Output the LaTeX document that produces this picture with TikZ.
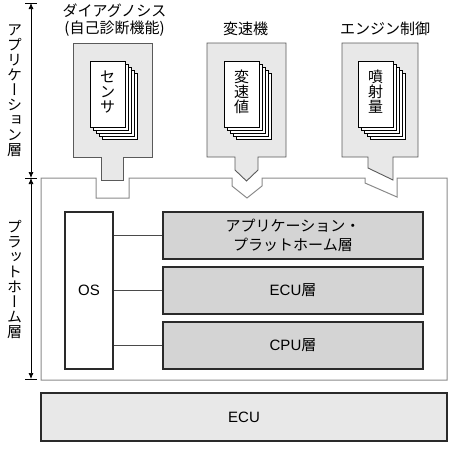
\documentclass[tikz,border=0pt]{standalone}
\usepackage{fontspec}
\usepackage{graphicx}
\setmainfont{Liberation Sans}
\newfontfamily\jp{Noto Sans CJK JP}
\newfontfamily\jpv[RawFeature=+vert]{Noto Sans CJK JP}
\usetikzlibrary{arrows.meta,calc}
\definecolor{appfill}{HTML}{E8E8E8}
\definecolor{layfill}{HTML}{D4D4D4}
\definecolor{ecufill}{HTML}{E8E8E8}
\definecolor{appline}{HTML}{5A5A5A}
\definecolor{platline}{HTML}{8A8A8A}
\definecolor{darkline}{HTML}{2A2A2A}
\begin{document}
\begin{tikzpicture}[x=1pt,y=-1pt,
 lbl/.style={font=\jp\fontsize{15}{17}\selectfont, align=center, inner sep=0pt},
 vlbl/.style={font=\jpv\fontsize{15}{15}\selectfont, align=center, inner sep=0pt},
 appbox/.style={fill=appfill, draw=appline, line width=0.9pt},
 platbox/.style={draw=platline, line width=1pt},
 page/.style={fill=white, draw=black, line width=0.7pt},
 frontpage/.style={page, minimum width=35pt, minimum height=66pt, inner sep=0pt},
 layer/.style={draw=darkline, fill=layfill, line width=1.4pt, minimum width=260pt, minimum height=47pt, inner sep=0pt, font=\fontsize{15}{19}\selectfont, align=center},
 osbox/.style={draw=darkline, fill=white, line width=1.4pt, minimum width=48pt, minimum height=157pt, inner sep=0pt, font=\fontsize{15}{17}\selectfont},
 ecubox/.style={draw=darkline, fill=ecufill, line width=1.4pt, minimum width=406pt, minimum height=48pt, inner sep=0pt, font=\fontsize{15}{17}\selectfont},
 link/.style={draw=darkline!85, line width=0.8pt},
 dim/.style={line width=0.7pt, {Latex[length=6pt,width=5pt]}-{Latex[length=6pt,width=5pt]}},
 tickmark/.style={line width=0.8pt}]
\useasboundingbox (0,0) rectangle (450,448);

% dimension lines
\coordinate (dTop) at (31,3);
\coordinate (dMid) at (31,178);
\coordinate (dBot) at (31,379);
\foreach \c in {dTop,dMid,dBot}
  \draw[tickmark] ([xshift=-6pt]\c) -- ([xshift=6pt]\c);
\draw[dim] (dTop) -- (dMid);
\draw[dim] (dMid) -- (dBot);
\node[vlbl] (lblApp) at (14.5,91) {ア\\プ\\リ\\ケ\\ー\\シ\\ョ\\ン\\層};
\node[vlbl] (lblPlat) at (14.5,279) {プ\\ラ\\ッ\\ト\\ホ\\ー\\ム\\層};

% platform box with sockets
\draw[platbox] (41,178) -- (96,178) -- (96,198) -- (129,198) -- (129,178)
  -- (232,178) -- (232,186) -- (247,198) -- (262,186) -- (262,178)
  -- (365,178) -- (365,183) -- (397,197) -- (397,178)
  -- (447,178) -- (447,380) -- (41,380) -- cycle;

% application boxes with plugs
\draw[appbox] (73,43) -- (152,43) -- (152,157) -- (123,157) -- (123,180)
  -- (101,180) -- (101,157) -- (73,157) -- cycle;
\draw[appbox] (207,43) -- (286,43) -- (286,157) -- (258,157) -- (258,170)
  -- (246.5,181) -- (235,170) -- (235,157) -- (207,157) -- cycle;
\draw[appbox] (342,43) -- (418,43) -- (418,157) -- (393,157) -- (393,180)
  -- (368,168) -- (368,157) -- (342,157) -- cycle;

% labels above
\node[lbl] (t1) at (114.5,20) {ダイアグノシス\\(自己診断機能)};
\node[lbl] (t2) at (245.5,29) {変速機};
\node[lbl] (t3) at (385,29) {エンジン制御};

% document stacks
\foreach \cx/\nm/\txt in {107.5/p1/{セ\\ン\\サ},241.5/p2/{変\\速\\値},375.5/p3/{噴\\射\\量}}{
  \foreach \k in {4,3,2,1}
    \draw[page] (\cx-17.5+3*\k,61+3*\k) rectangle (\cx+17.5+3*\k,127+3*\k);
  \node[frontpage] (\nm) at (\cx,94) {};
  \node[font=\jp\fontsize{15}{15}\selectfont, align=center, inner sep=0pt] at (\cx,92) {\txt};
}

% platform internals
\node[osbox] (os) at (89,290.5) {OS};
\node[layer] (la) at (293,235.5) {{\jp アプリケーション・}\\{\jp プラットホーム層}};
\node[layer] (lb) at (293,290.5) {ECU{\jp 層}};
\node[layer] (lc) at (293,345.5) {CPU{\jp 層}};
\draw[link] (os.east |- la.west) -- (la.west);
\draw[link] (os.east |- lb.west) -- (lb.west);
\draw[link] (os.east |- lc.west) -- (lc.west);

% ECU
\node[ecubox] (ecu) at (244,417) {ECU};
\end{tikzpicture}
\end{document}
